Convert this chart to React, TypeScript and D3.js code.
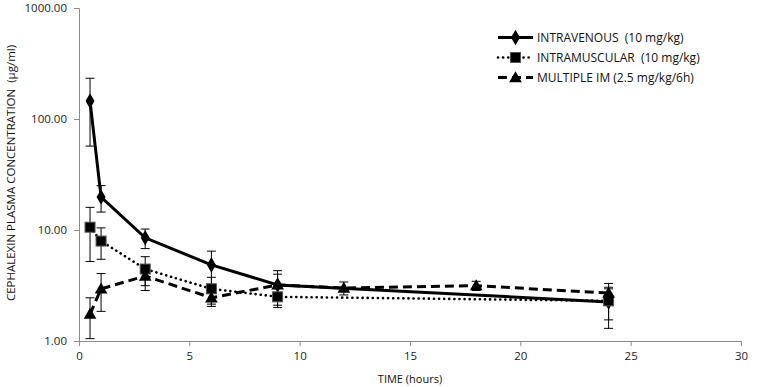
import React, { useRef, useEffect } from 'react';
import * as d3 from 'd3';

interface Point {
  t: number;
  v: number;
  sd: number;
}

const ivTimes = [0.5, 1, 3, 6, 9, 24];
const ivValues = [145, 19.8, 8.5, 4.85, 3.2, 2.25];
const ivErrors = [88, 5.3, 1.7, 1.6, 1.1, 0.7];

const imTimes = [0.5, 1, 3, 6, 9, 24];
const imValues = [10.6, 7.95, 4.45, 2.95, 2.5, 2.3];
const imErrors = [5.4, 2.5, 1.3, 0.8, 0.5, 1.0];

const multiTimes = [0.5, 1, 3, 6, 9, 12, 18, 24];
const multiValues = [1.75, 2.95, 3.85, 2.45, 3.2, 3.0, 3.15, 2.7];
const multiErrors = [0.7, 1.1, 1.0, 0.4, 0.8, 0.4, 0.3, 0.35];

const xTicks = [0, 5, 10, 15, 20, 25, 30];
const yTicks = [1, 10, 100, 1000];

const legendLabels = ['INTRAVENOUS  (10 mg/kg)', 'INTRAMUSCULAR  (10 mg/kg)', 'MULTIPLE IM (2.5 mg/kg/6h)'];

function toPoints(times: number[], values: number[], errors: number[]): Point[] {
  return times.map((t, i) => ({ t, v: values[i], sd: errors[i] }));
}

const series = [
  { name: legendLabels[0], data: toPoints(ivTimes, ivValues, ivErrors), dash: null as string | null, marker: 'diamond' },
  { name: legendLabels[1], data: toPoints(imTimes, imValues, imErrors), dash: '0.1 5', marker: 'square' },
  { name: legendLabels[2], data: toPoints(multiTimes, multiValues, multiErrors), dash: '9 5', marker: 'triangle' }
];

const FONT = "'Open Sans', 'Noto Sans', sans-serif";

export default function App() {
  const svgRef = useRef<SVGSVGElement>(null);

  useEffect(() => {
    const width = 757;
    const height = 387;
    const svg = d3.select(svgRef.current);
    svg.selectAll('*').remove();
    svg.attr('width', width).attr('height', height);

    const x = d3.scaleLinear().domain([0, 30]).range([79, 741]);
    const y = d3.scaleLog().domain([1, 1000]).range([341, 8]);
    const axisColor = '#8c8c8c';

    // axes
    const yAxis = d3.axisLeft(y).tickValues(yTicks).tickSize(5).tickFormat(d => (+d).toFixed(2));
    const gy = svg.append('g').attr('transform', `translate(${x(0)},0)`).call(yAxis);
    gy.select('.domain').attr('stroke', axisColor);
    gy.selectAll('.tick line').attr('stroke', axisColor);
    gy.selectAll('.tick text')
      .attr('font-family', FONT).attr('font-size', 11.5).attr('fill', '#222').attr('x', -12);

    const xAxis = d3.axisBottom(x).tickValues(xTicks).tickSize(5).tickSizeOuter(0).tickFormat(d3.format('d'));
    const gx = svg.append('g').attr('transform', `translate(0,${y(1)})`).call(xAxis);
    gx.select('.domain').attr('stroke', axisColor);
    gx.selectAll('.tick line').attr('stroke', axisColor);
    gx.selectAll('.tick text')
      .attr('font-family', FONT).attr('font-size', 11.5).attr('fill', '#222').attr('y', 11);

    svg.append('text')
      .attr('x', 410).attr('y', 383)
      .attr('text-anchor', 'middle')
      .attr('font-family', FONT).attr('font-size', 11).attr('fill', '#111')
      .text('TIME (hours)');

    svg.append('text')
      .attr('transform', 'translate(15,173) rotate(-90)')
      .attr('text-anchor', 'middle')
      .attr('font-family', FONT).attr('font-size', 11.5).attr('fill', '#111')
      .style('white-space', 'pre')
      .text('CEPHALEXIN PLASMA CONCENTRATION  (µg/ml)');

    const drawMarker = (g: d3.Selection<SVGGElement, unknown, null, undefined>, kind: string, cx: number, cy: number) => {
      if (kind === 'diamond') {
        g.append('path')
          .attr('d', d3.symbol(d3.symbolDiamond, 70)())
          .attr('transform', `translate(${cx},${cy})`)
          .attr('fill', '#000');
      } else if (kind === 'square') {
        g.append('rect')
          .attr('x', cx - 5).attr('y', cy - 5).attr('width', 10).attr('height', 10)
          .attr('fill', '#000').attr('stroke', '#555').attr('stroke-width', 1);
      } else {
        g.append('path')
          .attr('d', d3.symbol(d3.symbolTriangle, 70)())
          .attr('transform', `translate(${cx},${cy + 1})`)
          .attr('fill', '#000');
      }
    };

    const plot = svg.append('g');

    series.forEach(s => {
      // error bars
      const eb = plot.append('g').attr('stroke', '#000').attr('stroke-width', 1);
      s.data.forEach(p => {
        const top = y(p.v + p.sd);
        const bottom = y(Math.max(p.v - p.sd, 1.01));
        const cx = x(p.t);
        eb.append('line').attr('x1', cx).attr('x2', cx).attr('y1', top).attr('y2', bottom);
        eb.append('line').attr('x1', cx - 4.5).attr('x2', cx + 4.5).attr('y1', top).attr('y2', top);
        eb.append('line').attr('x1', cx - 4.5).attr('x2', cx + 4.5).attr('y1', bottom).attr('y2', bottom);
      });
    });

    series.forEach(s => {
      const line = d3.line<Point>().x(d => x(d.t)).y(d => y(d.v));
      const path = plot.append('path')
        .datum(s.data)
        .attr('d', line)
        .attr('fill', 'none')
        .attr('stroke', '#000')
        .attr('stroke-width', s.marker === 'square' ? 2.6 : 3);
      if (s.dash) {
        path.attr('stroke-dasharray', s.dash);
        if (s.marker === 'square') path.attr('stroke-linecap', 'round');
      }
      const mg = plot.append('g');
      s.data.forEach(p => drawMarker(mg as any, s.marker, x(p.t), y(p.v)));
    });

    // legend
    const legend = svg.append('g');
    series.forEach((s, i) => {
      const ly = 37.5 + i * 20;
      const ln = legend.append('line')
        .attr('x1', 498).attr('x2', 533).attr('y1', ly).attr('y2', ly)
        .attr('stroke', '#000').attr('stroke-width', s.marker === 'square' ? 2.6 : 3);
      if (s.dash) {
        ln.attr('stroke-dasharray', s.dash);
        if (s.marker === 'square') ln.attr('stroke-linecap', 'round');
      }
      drawMarker(legend as any, s.marker, 515.5, ly);
      legend.append('text')
        .attr('x', 537).attr('y', ly + 4)
        .attr('font-family', FONT).attr('font-size', 12).attr('fill', '#111')
        .style('white-space', 'pre')
        .text(s.name);
    });
  }, []);

  return (
    <div style={{ position: 'absolute', left: 0, top: 0 }}>
      <svg ref={svgRef} style={{ display: 'block' }} />
    </div>
  );
}
